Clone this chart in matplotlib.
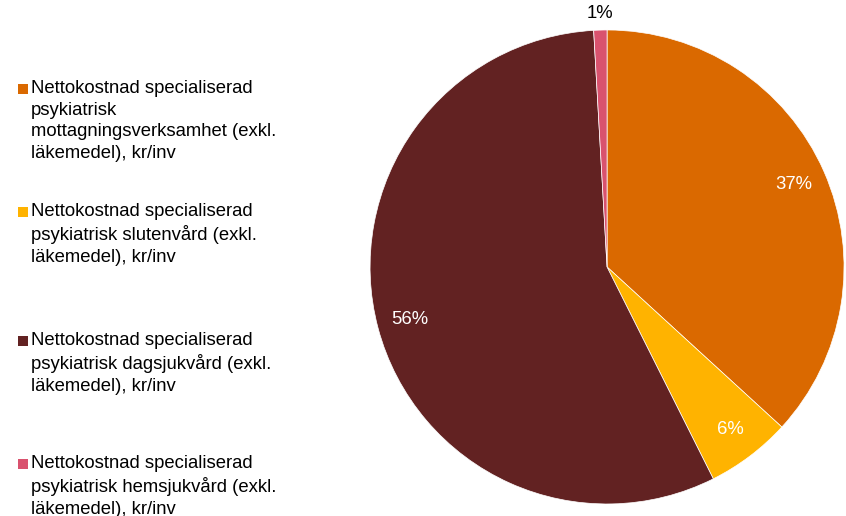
import numpy as np
import matplotlib.pyplot as plt
from matplotlib.patches import Rectangle

plt.rcParams['font.family'] = ['Liberation Sans', 'DejaVu Sans']

# share of net cost (percent)
categories = [
    "Nettokostnad specialiserad\npsykiatrisk\nmottagningsverksamhet (exkl.\nläkemedel), kr/inv",
    "Nettokostnad specialiserad\npsykiatrisk slutenvård (exkl.\nläkemedel), kr/inv",
    "Nettokostnad specialiserad\npsykiatrisk dagsjukvård (exkl.\nläkemedel), kr/inv",
    "Nettokostnad specialiserad\npsykiatrisk hemsjukvård (exkl.\nläkemedel), kr/inv",
]
values = [36.8, 5.8, 56.5, 0.9]
colors = ["#DA6900", "#FFB300", "#622222", "#D9526E"]
pct_labels = ["37%", "6%", "56%", "1%"]

fig = plt.figure(figsize=(8.46, 5.16), dpi=100, facecolor="w")
ax = fig.add_axes([0.4374, 0.0233, 0.5603, 0.9186])

wedges, _ = ax.pie(values, colors=colors, startangle=90, counterclock=False,
                   wedgeprops=dict(edgecolor="w", linewidth=0.5))
ax.set_xlim(-1, 1)
ax.set_ylim(-1, 1)
ax.set_aspect("equal")

# percent labels, inside except the tiny last slice
start = 90.0
total = sum(values)
for i, v in enumerate(values):
    span = v / total * 360
    mid = np.deg2rad(start - span / 2)
    start -= span
    if v < 3:
        r, col = 1.07, "black"
    else:
        r, col = 0.86, "white"
    ax.text(r * np.cos(mid), r * np.sin(mid), pct_labels[i], color=col,
            fontsize=13.3, ha="center", va="center")

# legend drawn by hand
baselines = [94, 217, 346, 469]
W, H = 846, 516
for lab, col, b in zip(categories, colors, baselines):
    fig.text(31 / W, 1 - (b - 14) / H, lab, fontsize=13.3, ha="left", va="top",
             color="black", linespacing=1.35)
    fig.patches.append(Rectangle((18 / W, 1 - b / H), 10 / W, 10 / H,
                                 transform=fig.transFigure, facecolor=col,
                                 edgecolor="none"))

fig.savefig("out.png", dpi=100, facecolor="w")
